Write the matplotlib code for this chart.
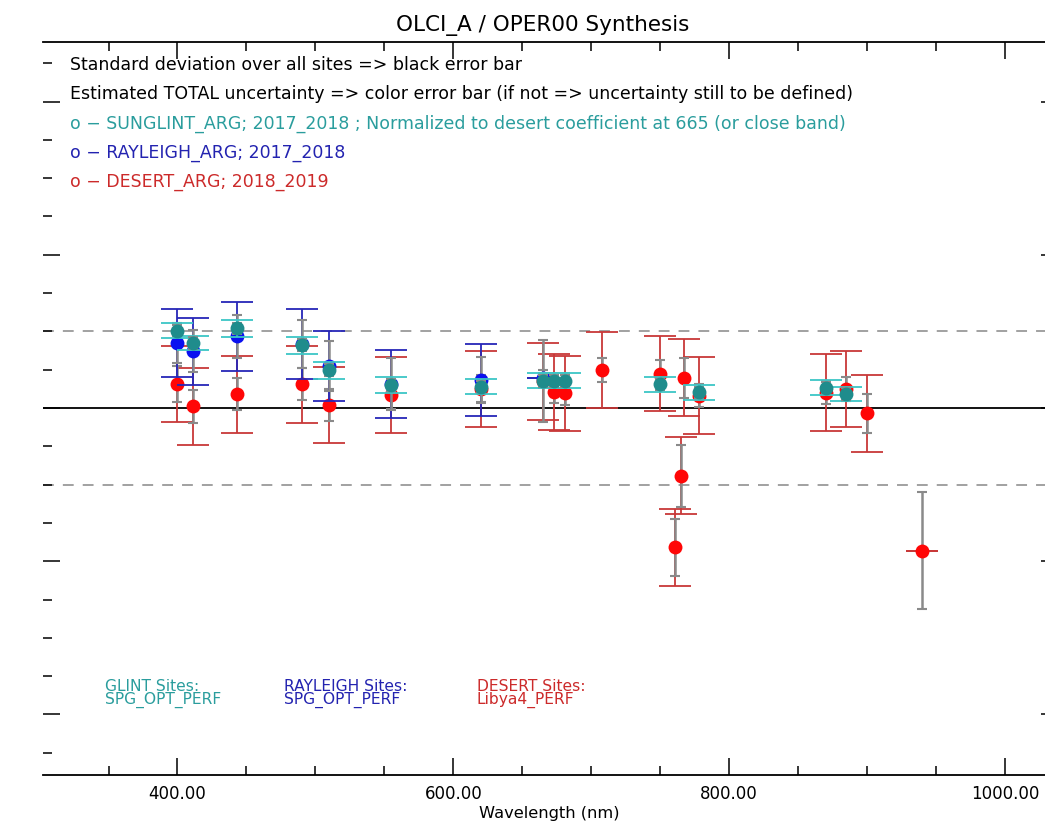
import matplotlib
matplotlib.use("Agg")
import matplotlib.pyplot as plt
from matplotlib.ticker import MultipleLocator, FixedLocator, FormatStrFormatter, NullFormatter

W, H, DPI = 1045, 822, 100

# Sunglint calibration (normalized to desert at 665 nm)
glint_wl = [400, 411, 443, 490, 510, 555, 620, 665, 673, 681, 750, 778, 870, 885]
glint_val = [1.0202, 1.0170, 1.0208, 1.0164, 1.0099, 1.0060, 1.0056, 1.0071, 1.0071,
             1.0071, 1.0062, 1.0041, 1.0053, 1.0036]
glint_unc = [0.0020, 0.0018, 0.0022, 0.0022, 0.0022, 0.0020, 0.0020, 0.0020, 0.0020,
             0.0020, 0.0020, 0.0019, 0.0020, 0.0018]
glint_std = [0.0015, 0.0015, 0.0015, 0.0015, 0.0015, 0.0015, 0.0015, 0.0015, 0.0015,
             0.0015, 0.0015, 0.0015, 0.0015, 0.0015]

# Rayleigh calibration
rayl_wl = [400, 411, 443, 490, 510, 555, 620, 665]
rayl_val = [1.0169, 1.0148, 1.0187, 1.0167, 1.0109, 1.0062, 1.0073, 1.0078]
rayl_unc = [0.0089, 0.0088, 0.0091, 0.0091, 0.0091, 0.0089, 0.0093, 0.0000]
rayl_std = [0.0052, 0.0055, 0.0057, 0.0063, 0.0065, 0.0068, 0.0061, 0.0020]

# Desert calibration
desert_wl = [400, 411, 443, 490, 510, 555, 620, 665, 673, 681, 708, 750, 761, 765,
             767, 778, 870, 885, 900, 940]
desert_val = [1.0063, 1.0004, 1.0036, 1.0062, 1.0008, 1.0034, 1.0050, 1.0070, 1.0042,
              1.0038, 1.0099, 1.0090, 0.9636, 0.9823, 1.0079, 1.0032, 1.0040, 1.0049,
              0.9986, 0.9627]
desert_unc = [0.0100, 0.0100, 0.0100, 0.0100, 0.0100, 0.0100, 0.0100, 0.0101, 0.0099,
              0.0098, 0.0100, 0.0099, 0.0100, 0.0100, 0.0100, 0.0100, 0.0100, 0.0099,
              0.0100, 0.0000]
desert_std = [0.0047, 0.0042, 0.0042, 0.0042, 0.0042, 0.0036, 0.0035, 0.0107, 0.0030,
              0.0030, 0.0032, 0.0036, 0.0074, 0.0081, 0.0052, 0.0030, 0.0030, 0.0031,
              0.0051, 0.0153]

x_major = [400, 600, 800, 1000]
x_labels = ["400.00", "600.00", "800.00", "1000.00"]

title = "OLCI_A / OPER00 Synthesis"
header_lines = [
    ("Standard deviation over all sites => black error bar", "black"),
    ("Estimated TOTAL uncertainty => color error bar (if not => uncertainty still to be defined)", "black"),
    ("o \u2212 SUNGLINT_ARG; 2017_2018 ; Normalized to desert coefficient at 665 (or close band)", "#2a9d9d"),
    ("o \u2212 RAYLEIGH_ARG; 2017_2018", "#2323b0"),
    ("o \u2212 DESERT_ARG; 2018_2019", "#cc2a2a"),
]
site_blocks = [
    ("GLINT Sites:", "SPG_OPT_PERF", "#2a9d9d", 105),
    ("RAYLEIGH Sites:", "SPG_OPT_PERF", "#2323b0", 284),
    ("DESERT Sites:", "Libya4_PERF", "#cc2a2a", 477),
]

plt.rcParams["font.family"] = ["DejaVu Sans"]

fig = plt.figure(figsize=(W / DPI, H / DPI), dpi=DPI)
# axes box in pixels: left 43, right 1058 (beyond the canvas), top 42, bottom 775
ax_l, ax_r, ax_t, ax_b = 43, 1058, 42, 775
ax = fig.add_axes([ax_l / W, 1 - ax_b / H, (ax_r - ax_l) / W, (ax_b - ax_t) / H])

ax.set_xlim(302.5, 1038.5)
ax.set_ylim(0.90418, 1.09556)

for side in ("left", "right"):
    ax.spines[side].set_visible(False)
for side in ("top", "bottom"):
    ax.spines[side].set_linewidth(1.3)

ax.xaxis.set_major_locator(FixedLocator(x_major))
ax.xaxis.set_minor_locator(MultipleLocator(50))
ax.xaxis.set_major_formatter(FormatStrFormatter("%.2f"))
ax.set_xticklabels(x_labels)
ax.yaxis.set_major_locator(MultipleLocator(0.04))
ax.yaxis.set_minor_locator(MultipleLocator(0.01))
ax.yaxis.set_major_formatter(NullFormatter())
ax.tick_params(which="both", direction="in", top=True, bottom=True, left=True, right=True,
               color="black", width=1.1, labelsize=12, pad=7)
ax.tick_params(which="major", length=12.5)
ax.tick_params(which="minor", length=6.2)

# reference levels
ax.axhline(1.0, color="black", lw=1.3, zorder=1)
for lev in (0.98, 1.02):
    ax.axhline(lev, color="#9a9a9a", lw=1.3, ls=(0, (6, 5)), zorder=1)

cap_big = 11.2
cap_small = 3.4
series = [
    (desert_wl, desert_val, desert_unc, desert_std, "#c83838", "#ff0606"),
    (rayl_wl, rayl_val, rayl_unc, rayl_std, "#2626b8", "#0a10f0"),
    (glint_wl, glint_val, glint_unc, glint_std, "#3cc6c6", "#1f8c8c"),
]
z = 2
for wl, val, unc, std, bar_c, mk_c in series:
    ax.errorbar(wl, val, yerr=unc, fmt="none", ecolor=bar_c, elinewidth=1.3,
                capsize=cap_big, capthick=1.3, zorder=z)
    ax.errorbar(wl, val, yerr=std, fmt="none", ecolor="#8a8a8a", elinewidth=1.8,
                capsize=cap_small, capthick=1.5, zorder=z + 0.5)
    ax.plot(wl, val, "o", color=mk_c, markersize=10, markeredgewidth=0, zorder=z + 1)
    z += 2

fig.text(543 / W, 1 - 25 / H, title, ha="center", va="center", fontsize=15.5)
for i, (txt, col) in enumerate(header_lines):
    fig.text(70 / W, 1 - (65 + 29.3 * i) / H, txt, ha="left", va="center",
             fontsize=12.5, color=col)
for line1, line2, col, px in site_blocks:
    fig.text(px / W, 1 - 686 / H, line1, ha="left", va="center", fontsize=11.2, color=col)
    fig.text(px / W, 1 - 700 / H, line2, ha="left", va="center", fontsize=11.2, color=col)

fig.text(549 / W, 1 - 813 / H, "Wavelength (nm)", ha="center", va="center", fontsize=11.7)

fig.savefig("out.png", dpi=DPI)
